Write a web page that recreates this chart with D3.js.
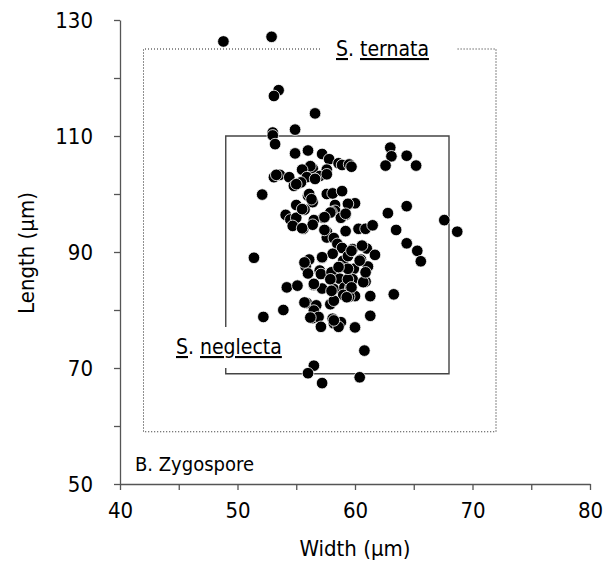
<!DOCTYPE html>
<html>
<head>
<meta charset="utf-8">
<script src="https://cdn.jsdelivr.net/npm/d3@7/dist/d3.min.js"></script>
<style>
body { margin: 0; background: #fff; }
text { font-family: "DejaVu Sans Condensed", "DejaVu Sans", sans-serif; fill: #000; }
</style>
</head>
<body>
<svg id="chart" width="610" height="566"></svg>
<script>
// zygospore width / length (um)
var widths = [48.8,52.9,53.5,53.1,56.6,54.9,53.0,53.0,53.2,54.9,56.0,57.2,57.8,58.6,58.9,59.5,59.7,63.0,63.1,62.6,64.4,65.2,
    56.4,56.2,55.5,57.6,57.0,56.6,57.6,55.9,53.1,53.6,54.4,54.8,55.4,52.1,56.0,56.1,57.6,58.1,58.9,56.4,55.0,55.7,58.3,58.3,
    58.0,59.5,60.0,59.2,58.8,57.3,56.5,54.1,54.5,55.0,54.7,55.6,56.4,57.6,59.2,60.3,60.9,61.5,62.8,64.4,63.5,64.4,65.3,65.6,
    67.6,68.7,57.6,58.2,58.5,58.9,59.8,61.0,61.7,51.4,57.2,58.1,59.0,59.4,60.5,61.1,56.1,55.8,56.0,57.0,57.1,58.0,58.7,59.9,
    59.8,60.9,58.0,58.7,56.5,57.2,58.2,59.1,59.6,60.0,59.5,59.0,61.3,54.2,55.1,53.9,55.9,56.7,57.9,58.2,56.5,52.2,56.4,56.9,
    58.1,58.2,58.8,58.6,57.1,60.0,61.3,63.3,60.8,56.5,56.0,57.2,60.4,
    53.3,55.0,56.6,56.3,55.5,59.4,57.9,59.2,57.4,55.5,57.4,57.9,58.0,59.4,59.7,59.3,56.5,55.7,58.2,56.2,59.7,60.4,59.4,58.6,
    60.7,60.9,60.6,55.7,57.2];
var lengths = [126.3,127.1,117.9,116.9,113.9,111.1,110.6,110.1,108.6,107.0,107.5,106.9,106.0,105.3,105.0,105.1,104.7,108.0,106.5,104.9,106.6,104.9,
    104.4,104.8,104.2,104.2,103.1,102.6,103.4,102.9,102.9,103.3,102.9,101.4,102.0,99.9,99.7,100.0,100.0,100.1,100.5,98.6,98.1,97.3,98.1,97.1,
    96.9,98.3,98.4,96.4,95.9,95.9,95.5,96.4,95.6,95.9,94.5,94.0,94.7,93.5,93.6,94.0,94.0,94.6,96.7,97.9,93.8,91.5,90.2,88.4,
    95.5,93.5,92.5,92.4,91.4,90.7,90.5,90.6,89.5,89.0,89.0,89.7,88.5,89.3,88.7,87.5,88.7,87.5,86.3,86.8,86.2,86.5,87.4,87.1,
    85.3,84.9,85.2,85.4,84.3,83.7,83.6,83.9,83.8,82.4,82.3,82.6,82.4,83.9,84.2,80.0,81.2,80.8,81.0,81.6,79.9,78.8,78.6,78.8,
    78.5,77.7,77.9,77.1,77.1,77.0,79.0,82.7,73.0,70.4,69.1,67.4,68.4,
    103.3,101.7,102.6,99.1,97.4,98.3,96.8,96.6,96.0,94.1,93.8,85.3,83.3,85.3,83.9,82.2,84.5,81.3,78.2,78.7,90.2,88.5,87.1,87.4,
    84.8,86.5,91.1,88.2,89.1];

var xTicks = [40,45,50,55,60,65,70,75,80];
var xLabels = [40,50,60,70,80];
var yTicks = [50,60,70,80,90,100,110,120,130];
var yLabels = [50,70,90,110,130];

// range boxes [xmin, xmax, ymin, ymax]
var neglectaBox = [49,68,69,110];
var ternataBox = [42,72,59,125];

var svg = d3.select('#chart');
var x = d3.scaleLinear().domain([40,80]).range([120,590]);
var y = d3.scaleLinear().domain([50,130]).range([484,20]);

// dotted S. ternata box, gap in the top edge for its label
var tb = svg.append('g')
    .attr('fill','none')
    .attr('stroke','#222')
    .attr('stroke-width',1.1)
    .attr('stroke-dasharray','1,2');
tb.append('path').attr('d',
    'M' + 320 + ',' + y(ternataBox[3]) + 'H' + x(ternataBox[0]) + 'V' + y(ternataBox[2]) +
    'H' + x(ternataBox[1]) + 'V' + y(ternataBox[3]) + 'H' + 456);

// solid S. neglecta box, left side broken by the label
var nb = svg.append('g')
    .attr('fill','none')
    .attr('stroke','#444')
    .attr('stroke-width',1.4);
nb.append('path').attr('d',
    'M' + x(neglectaBox[0]) + ',' + 327 + 'V' + y(neglectaBox[3]) + 'H' + x(neglectaBox[1]) +
    'V' + y(neglectaBox[2]) + 'H' + x(neglectaBox[0]) + 'V' + 368);

// points
svg.append('g').selectAll('circle')
    .data(widths)
    .enter().append('circle')
    .attr('cx', function(d) { return x(d); })
    .attr('cy', function(d, i) { return y(lengths[i]); })
    .attr('r', 5.8)
    .attr('fill', '#000')
    .attr('stroke', '#fff')
    .attr('stroke-width', 0.8);

// axes
var xAxis = d3.axisBottom(x).tickValues(xTicks).tickSizeInner(6).tickSizeOuter(0).tickPadding(12)
    .tickFormat(function(d) { return xLabels.indexOf(d) >= 0 ? d : ''; });
var yAxis = d3.axisLeft(y).tickValues(yTicks).tickSizeInner(6).tickSizeOuter(0).tickPadding(21)
    .tickFormat(function(d) { return yLabels.indexOf(d) >= 0 ? d : ''; });

var gx = svg.append('g').attr('transform','translate(0,' + y(50) + ')').call(xAxis);
var gy = svg.append('g').attr('transform','translate(' + x(40) + ',0)').call(yAxis);
[gx, gy].forEach(function(g) {
    g.selectAll('path, line').attr('stroke','#555').attr('stroke-width',1.3);
    g.selectAll('text').style('font-size','22px').attr('fill','#000')
        .style('font-family','"DejaVu Sans Condensed","DejaVu Sans",sans-serif');
});

// axis titles
svg.append('text')
    .attr('x', 355).attr('y', 556)
    .attr('text-anchor','middle')
    .style('font-size','22px')
    .text('Width (\u00b5m)');
svg.append('text')
    .attr('transform','translate(34,253) rotate(-90)')
    .attr('text-anchor','middle')
    .style('font-size','22px')
    .text('Length (\u00b5m)');

// labels
function speciesLabel(px, py, genus, species) {
    var t = svg.append('text').attr('x', px).attr('y', py).style('font-size','21px');
    t.append('tspan').style('text-decoration','underline').text(genus);
    t.append('tspan').text('. ');
    t.append('tspan').style('text-decoration','underline').text(species);
}
speciesLabel(336, 56, 'S', 'ternata');
speciesLabel(176, 354, 'S', 'neglecta');

svg.append('text')
    .attr('x', 135).attr('y', 471)
    .style('font-size','20px')
    .text('B. Zygospore');
</script>
</body>
</html>
